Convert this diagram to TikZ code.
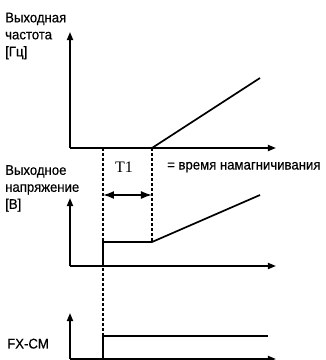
\documentclass[tikz,border=0pt]{standalone}
\usepackage{fontspec}
\setmainfont{Liberation Sans}[FakeBold=0.4, FakeStretch=0.94]
\newfontfamily\tfont{Liberation Serif}
\usetikzlibrary{arrows.meta}

\begin{document}
\begin{tikzpicture}[x=1pt, y=-1pt,
  axis/.style={-{Triangle[length=8pt, width=6pt]}, line width=1.7pt},
  curve/.style={line width=1.7pt},
  guide/.style={line width=1.3pt, dash pattern=on 3pt off 2pt},
  span/.style={{Latex[length=11pt, width=8pt]}-{Latex[length=11pt, width=8pt]}, line width=1.7pt},
  lbl/.style={font=\fontsize{14}{17}\selectfont, align=left, inner sep=0pt},
]
\useasboundingbox (0,0) rectangle (326,360);

%── Выходная частота ──────────────────────────────────────────────────────────
\coordinate (f0)  at (70,148);
\coordinate (fy)  at (70,32);
\coordinate (fx)  at (276,148);
\coordinate (fa)  at (152,148);
\coordinate (fb)  at (260,78);
\draw[axis] (f0) -- (fy);
\draw[axis] (f0) -- (fx);
\draw[curve] (fa) -- (fb);
\node[lbl, anchor=north west] (flbl) at (5,12.5) {Выходная\\частота\\{}[Гц]};

%── Выходное напряжение ───────────────────────────────────────────────────────
\coordinate (u0)  at (70,266);
\coordinate (uy)  at (70,198);
\coordinate (ux)  at (276,266);
\coordinate (ua)  at (103,266);
\coordinate (ub)  at (103,242);
\coordinate (uc)  at (152,242);
\coordinate (ud)  at (260,195);
\draw[axis] (u0) -- (uy);
\draw[axis] (u0) -- (ux);
\draw[curve] (ua) -- (ub) -- (uc) -- (ud);
\node[lbl, anchor=north west] (ulbl) at (5,165) {Выходное\\напряжение\\{}[В]};

%── FX-CM ─────────────────────────────────────────────────────────────────────
\coordinate (s0)  at (70,359);
\coordinate (sy)  at (70,313);
\coordinate (sx)  at (276,359);
\coordinate (sa)  at (103,359);
\coordinate (sb)  at (103,336);
\coordinate (sc)  at (268,336);
\draw[axis] (s0) -- (sy);
\draw[axis] (s0) -- (sx);
\draw[curve] (sa) -- (sb) -- (sc);
\node[lbl, anchor=north west] (slbl) at (7,338.5) {FX-CM};

%── T1 ────────────────────────────────────────────────────────────────────────
\coordinate (t1a) at (103,148);
\coordinate (t1b) at (152,148);
\draw[guide] (t1a) -- (sb);
\draw[guide] (t1b) -- (uc);
\draw[span] (103,195) -- (152,195);
\node[font=\tfont\fontsize{16}{17}\selectfont, anchor=base, inner sep=0pt] (t1) at (124,172.5) {T1};
\node[lbl, anchor=base west] (t1txt) at (167,169.5) {= время намагничивания};

\end{tikzpicture}
\end{document}
